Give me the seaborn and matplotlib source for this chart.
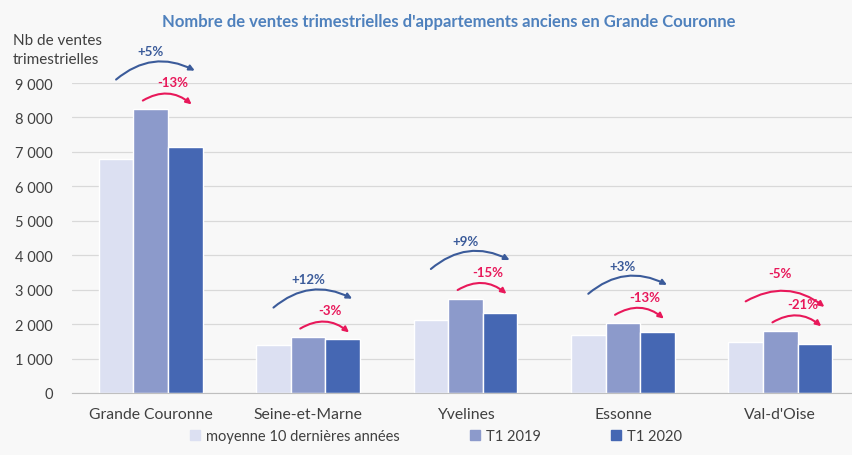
import matplotlib
matplotlib.use("Agg")
import matplotlib.pyplot as plt
import matplotlib.patches as mpatches
import seaborn as sns
import pandas as pd

# données
regions = ["Grande Couronne", "Seine-et-Marne", "Yvelines", "Essonne", "Val-d'Oise"]
series = ["moyenne 10 dernières années", "T1 2019", "T1 2020"]
moyenne_10_ans = [6800, 1400, 2110, 1690, 1480]
t1_2019 = [8240, 1620, 2740, 2020, 1800]
t1_2020 = [7150, 1580, 2320, 1760, 1410]
evol_vs_moyenne = ["+5%", "+12%", "+9%", "+3%", "-5%"]
evol_vs_2019 = ["-13%", "-3%", "-15%", "-13%", "-21%"]
yticks = [0, 1000, 2000, 3000, 4000, 5000, 6000, 7000, 8000, 9000]

df = pd.DataFrame({
    "region": regions * 3,
    "serie": [s for s in series for _ in regions],
    "ventes": moyenne_10_ans + t1_2019 + t1_2020,
})

couleurs = ["#DCE0F2", "#8C9ACB", "#4567B3"]
bleu = "#3B5B9A"
rouge = "#E8185A"
gris = "#404040"

sns.set_style("white")
plt.rcParams["font.family"] = ["Lato", "DejaVu Sans"]

fig = plt.figure(figsize=(8.52, 4.56), dpi=100, facecolor="#F8F8F8")
ax = fig.add_axes([72 / 852, 62 / 456, 787 / 852, 310 / 456])
ax.set_facecolor("#F8F8F8")

sns.barplot(data=df, x="region", y="ventes", hue="serie", hue_order=series,
            palette=couleurs, width=0.66, saturation=1, gap=0, ax=ax, legend=False)

ax.set_ylim(0, 9000)
ax.set_xlim(-0.5, 4.5)
ax.set_yticks(yticks)
ax.set_yticklabels([f"{v:,}".replace(",", " ") for v in yticks], fontsize=10.5, color=gris)
ax.yaxis.grid(True, color="#D9D9D9", lw=0.9)
ax.set_axisbelow(True)
ax.set_xlabel("")
ax.set_ylabel("")
ax.tick_params(axis="y", length=0, pad=14)
ax.tick_params(axis="x", which="major", length=0, pad=10, labelsize=11.3, labelcolor=gris)
ax.set_xticks([-0.5, 0.5, 1.5, 2.5, 3.5], minor=True)
ax.tick_params(axis="x", which="minor", length=4, color="#BFBFBF", width=0.9)
for s in ["left", "top", "right"]:
    ax.spines[s].set_visible(False)
ax.spines["bottom"].set_color("#BFBFBF")

# flèches d'évolution, placées à partir des barres
c_moy, c_19, c_20 = ax.containers[0], ax.containers[1], ax.containers[2]
for i in range(len(regions)):
    x_moy = c_moy[i].get_x() + c_moy[i].get_width() / 2
    x_19 = c_19[i].get_x() + c_19[i].get_width() / 2
    x_20 = c_20[i].get_x() + c_20[i].get_width() / 2
    haut = c_19[i].get_height()

    # vs moyenne 10 ans
    hausse = evol_vs_moyenne[i].startswith("+")
    col = bleu if hausse else rouge
    y0 = haut + 860
    y0_fin = y0 + 260 if hausse else y0 - 160
    ax.annotate("", xy=(x_20 + 0.06, y0_fin), xytext=(x_moy, y0),
                arrowprops=dict(arrowstyle="-|>", color=col, lw=1.5, mutation_scale=8,
                                shrinkA=0, shrinkB=0, connectionstyle="arc3,rad=-0.33"),
                annotation_clip=False)
    ax.text(x_19, y0 + 820, evol_vs_moyenne[i], ha="center", va="center",
            fontsize=9.5, fontweight="bold", color=col, clip_on=False)

    # vs T1 2019
    y1 = haut + 250
    ax.annotate("", xy=(x_20 + 0.04, y1 - 110), xytext=(x_19 - 0.05, y1),
                arrowprops=dict(arrowstyle="-|>", color=rouge, lw=1.5, mutation_scale=8,
                                shrinkA=0, shrinkB=0, connectionstyle="arc3,rad=-0.35"),
                annotation_clip=False)
    ax.text((x_19 + x_20) / 2 + 0.03, y1 + 530, evol_vs_2019[i], ha="center", va="center",
            fontsize=9.5, fontweight="bold", color=rouge, clip_on=False)

fig.text(449 / 852, 1 - 22 / 456,
         "Nombre de ventes trimestrielles d'appartements anciens en Grande Couronne",
         ha="center", va="center", fontsize=12, fontweight="bold", color="#4F81BD")
fig.text(13 / 852, 1 - 34 / 456, "Nb de ventes\ntrimestrielles", ha="left", va="top",
         fontsize=11, color=gris, linespacing=1.45)

handles = [mpatches.Patch(color=c) for c in couleurs]
fig.legend(handles, series, loc="center", bbox_to_anchor=(436 / 852, 19 / 456),
           ncol=3, frameon=False, fontsize=10.5, handlelength=0.7, handleheight=0.7,
           handletextpad=0.4, columnspacing=4.8, labelcolor=gris)

fig.savefig("out.png", dpi=100, facecolor=fig.get_facecolor())
